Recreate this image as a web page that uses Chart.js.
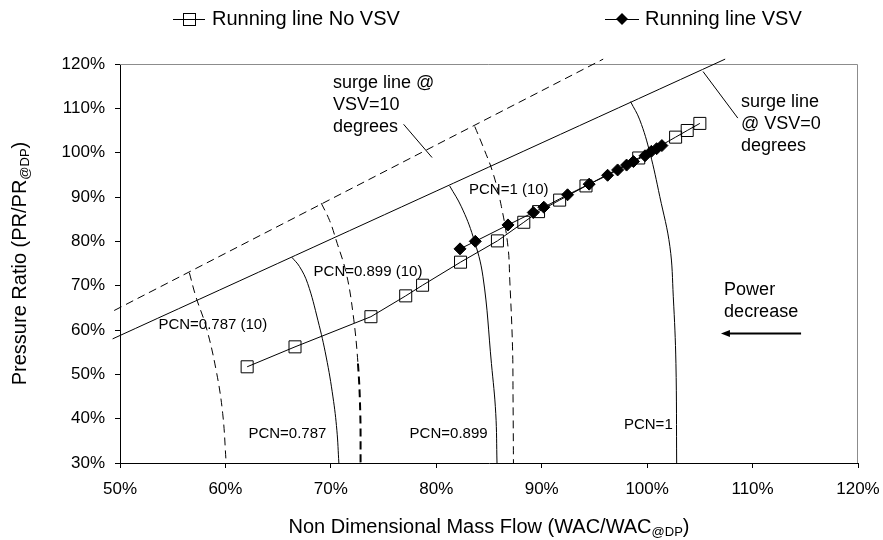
<!DOCTYPE html>
<html>
<head>
<meta charset="utf-8">
<script src="https://cdn.jsdelivr.net/npm/chart.js@4/dist/chart.umd.min.js"></script>
<style>
  html, body { margin: 0; padding: 0; background: #fff; }
  #wrap { width: 883px; height: 540px; }
</style>
</head>
<body>
<div id="wrap"><canvas id="c" width="883" height="540"></canvas></div>
<script>
// Running lines (mass flow % vs pressure ratio %)
const noVsvFlow = [62.06, 66.6, 73.8, 77.1, 78.7, 82.3, 85.8, 88.3, 89.7, 91.7, 94.2, 99.2, 102.7, 103.8, 105.0];
const noVsvPR   = [51.7, 56.2, 63.0, 67.7, 70.1, 75.3, 80.1, 84.3, 86.7, 89.3, 92.5, 98.8, 103.5, 105.0, 106.6];
const vsvFlow = [82.25, 83.7, 86.8, 89.2, 90.2, 92.45, 94.5, 96.25, 97.2, 98.05, 98.7, 99.8, 100.4, 100.9, 101.4];
const vsvPR   = [78.3, 80.0, 83.7, 86.5, 87.7, 90.5, 92.9, 94.9, 96.1, 97.2, 98.0, 99.3, 100.3, 100.9, 101.6];

// Surge lines
const surge0Flow  = [49.3, 107.4];
const surge0PR    = [58.0, 121.1];
const surge10Flow = [49.45, 95.83];
const surge10PR   = [64.4, 121.1];

// Constant speed lines, VSV = 0 (solid)
const pcn0787Flow = [66.3, 67.03, 67.8, 68.77, 69.56, 70.2, 70.57, 70.76];
const pcn0787PR   = [76.4, 74.3, 70.5, 62.2, 53.9, 44.9, 37.4, 30];
const pcn0899Flow = [81.27, 82.38, 83.49, 84.43, 85.23, 85.64, 85.76];
const pcn0899PR   = [92.5, 87.8, 81.05, 72.0, 52.45, 41.2, 30];
const pcn1Flow    = [98.43, 99.3, 100.27, 101.2, 102.16, 102.48, 102.73, 102.8];
const pcn1PR      = [111.5, 107.4, 99.9, 90.1, 78.8, 67.5, 52.45, 30];

// Constant speed lines, VSV = 10 (dashed)
const pcn0787v10Flow = [56.58, 57.2, 58.17, 59.12, 59.74, 60.07];
const pcn0787v10PR   = [72.9, 67.5, 60.7, 50.9, 41.2, 30];
const pcn0899v10Flow = [69.09, 69.88, 70.5, 71.46, 72.1, 72.57, 72.79, 72.82];
const pcn0899v10PR   = [88.6, 84.7, 80.3, 72.8, 63.75, 52.45, 41.2, 30];
const pcn1v10Flow    = [83.65, 84.43, 85.38, 86.18, 86.8, 86.97, 87.23, 87.28, 87.32];
const pcn1v10PR      = [105.9, 101.4, 95.4, 87.8, 78.8, 71.3, 56.2, 44.9, 30];

// Axis ticks
const xTicks = [50, 60, 70, 80, 90, 100, 110, 120];
const yTicks = [30, 40, 50, 60, 70, 80, 90, 100, 110, 120];

// Series names
const seriesNames = ['Running line No VSV', 'Running line VSV'];

// Text notes placed in data coordinates: [text lines, flow, pr, font px]
const noteTexts = [
  [['surge line @', 'VSV=10', 'degrees'], 70.2, 115.8, 18],
  [['surge line', '@ VSV=0', 'degrees'], 108.9, 111.5, 18],
  [['PCN=1 (10)'], 83.1, 91.6, 15],
  [['PCN=0.899 (10)'], 68.36, 73.1, 15],
  [['PCN=0.787 (10)'], 53.64, 61.1, 15],
  [['PCN=0.787'], 62.18, 36.6, 15],
  [['PCN=0.899'], 77.47, 36.6, 15],
  [['PCN=1'], 97.8, 38.7, 15],
  [['Power', 'decrease'], 107.3, 69.0, 18]
];
// Leader lines for the surge-line notes: [flow1, pr1, flow2, pr2]
const leaderLines = [
  [76.9, 106.4, 79.6, 98.9],
  [105.3, 118.3, 108.6, 107.8]
];
// "Power decrease" arrow: from (flow, pr) pointing to (flow, pr)
const arrowFrom = [114.6, 59.2];
const arrowTo   = [107.0, 59.2];

const FONT = "'Liberation Sans', Arial, Helvetica, sans-serif";

function pts(xs, ys) { return xs.map((x, i) => ({ x: x, y: ys[i] })); }

function curve(xs, ys, dashed, segment) {
  const ds = {
    data: pts(xs, ys),
    showLine: true,
    borderColor: '#000',
    borderWidth: 1,
    borderDash: dashed ? [8, 5] : [],
    pointRadius: 0,
    pointHoverRadius: 0,
    tension: 0.4,
    clip: false,
    fill: false
  };
  if (segment) ds.segment = segment;
  return ds;
}

const frameAndNotes = {
  id: 'frameAndNotes',
  beforeDatasetsDraw(chart) {
    const { ctx, chartArea: a } = chart;
    ctx.save();
    ctx.strokeStyle = '#8c8c8c';
    ctx.lineWidth = 1;
    ctx.beginPath();
    ctx.moveTo(a.left, a.top + 0.5);
    ctx.lineTo(a.right - 0.5, a.top + 0.5);
    ctx.lineTo(a.right - 0.5, a.bottom);
    ctx.stroke();
    ctx.restore();
  },
  afterDatasetsDraw(chart) {
    const { ctx, scales } = chart;
    const xs = scales.x, ys = scales.y;
    ctx.save();
    ctx.fillStyle = '#000';
    ctx.strokeStyle = '#000';
    ctx.textAlign = 'left';
    ctx.textBaseline = 'middle';
    for (const [lines, fx, fy, size] of noteTexts) {
      ctx.font = size + 'px ' + FONT;
      const px = xs.getPixelForValue(fx);
      const py = ys.getPixelForValue(fy);
      const lh = size >= 18 ? 22 : 18;
      lines.forEach((t, i) => ctx.fillText(t, px, py + i * lh));
    }
    ctx.lineWidth = 1;
    for (const [x1, y1, x2, y2] of leaderLines) {
      ctx.beginPath();
      ctx.moveTo(xs.getPixelForValue(x1), ys.getPixelForValue(y1));
      ctx.lineTo(xs.getPixelForValue(x2), ys.getPixelForValue(y2));
      ctx.stroke();
    }
    // arrow
    const ax1 = xs.getPixelForValue(arrowFrom[0]), ay1 = ys.getPixelForValue(arrowFrom[1]);
    const ax2 = xs.getPixelForValue(arrowTo[0]), ay2 = ys.getPixelForValue(arrowTo[1]);
    ctx.lineWidth = 2;
    ctx.beginPath();
    ctx.moveTo(ax1, ay1);
    ctx.lineTo(ax2 + 6, ay2);
    ctx.stroke();
    ctx.beginPath();
    ctx.moveTo(ax2, ay2);
    ctx.lineTo(ax2 + 9, ay2 - 3.5);
    ctx.lineTo(ax2 + 9, ay2 + 3.5);
    ctx.closePath();
    ctx.fill();
    ctx.restore();
  },
  afterDraw(chart) {
    const { ctx, chartArea: a } = chart;
    ctx.save();
    ctx.fillStyle = '#000';
    ctx.strokeStyle = '#000';
    // legend
    const ly = 19;
    ctx.lineWidth = 1;
    ctx.beginPath(); ctx.moveTo(173, ly + 0.5); ctx.lineTo(205, ly + 0.5); ctx.stroke();
    ctx.strokeRect(183.5, ly - 5.5, 12, 12);
    ctx.beginPath(); ctx.moveTo(605, ly + 0.5); ctx.lineTo(639, ly + 0.5); ctx.stroke();
    ctx.beginPath();
    ctx.moveTo(622, ly - 6); ctx.lineTo(628, ly); ctx.lineTo(622, ly + 6); ctx.lineTo(616, ly);
    ctx.closePath(); ctx.fill();
    ctx.font = '20px ' + FONT;
    ctx.textAlign = 'left';
    ctx.textBaseline = 'middle';
    ctx.fillText(seriesNames[0], 212, ly);
    ctx.fillText(seriesNames[1], 645, ly);

    // axis titles with subscripts
    const big = '20px ' + FONT, small = '13px ' + FONT;
    const xParts = [
      { t: 'Non Dimensional Mass Flow (WAC/WAC', f: big, dy: 0 },
      { t: '@DP', f: small, dy: 5 },
      { t: ')', f: big, dy: 0 }
    ];
    const yParts = [
      { t: 'Pressure Ratio (PR/PR', f: big, dy: 0 },
      { t: '@DP', f: small, dy: 5 },
      { t: ')', f: big, dy: 0 }
    ];
    const drawRich = (parts, cx, cy) => {
      let w = 0;
      for (const p of parts) { ctx.font = p.f; w += ctx.measureText(p.t).width; }
      let x = cx - w / 2;
      for (const p of parts) {
        ctx.font = p.f;
        ctx.fillText(p.t, x, cy + p.dy);
        x += ctx.measureText(p.t).width;
      }
    };
    drawRich(xParts, (a.left + a.right) / 2, 527);
    ctx.save();
    ctx.translate(20, (a.top + a.bottom) / 2);
    ctx.rotate(-Math.PI / 2);
    drawRich(yParts, 0, 0);
    ctx.restore();
    ctx.restore();
  }
};

const ctx = document.getElementById('c').getContext('2d');
new Chart(ctx, {
  type: 'scatter',
  data: {
    datasets: [
      {
        label: seriesNames[1],
        data: pts(vsvFlow, vsvPR),
        showLine: true,
        borderColor: '#000',
        borderWidth: 1,
        pointStyle: 'rectRot',
        pointRadius: 6,
        pointHoverRadius: 6,
        pointBackgroundColor: '#000',
        pointBorderColor: '#000',
        pointBorderWidth: 1,
        tension: 0
      },
      {
        label: seriesNames[0],
        data: pts(noVsvFlow, noVsvPR),
        showLine: true,
        borderColor: '#000',
        borderWidth: 1,
        pointStyle: 'rect',
        pointRadius: 8.5,
        pointHoverRadius: 8.5,
        pointBackgroundColor: 'rgba(0,0,0,0)',
        pointBorderColor: '#000',
        pointBorderWidth: 1,
        tension: 0
      },
      curve(surge0Flow, surge0PR, false),
      curve(surge10Flow, surge10PR, true),
      curve(pcn0787Flow, pcn0787PR, false),
      curve(pcn0899Flow, pcn0899PR, false),
      curve(pcn1Flow, pcn1PR, false),
      curve(pcn0787v10Flow, pcn0787v10PR, true),
      // lower part of this speed line is drawn heavier
      curve(pcn0899v10Flow, pcn0899v10PR, true, {
        borderWidth: c => (c.p0.parsed.y < 60 ? 2 : 1)
      }),
      curve(pcn1v10Flow, pcn1v10PR, true)
    ]
  },
  options: {
    responsive: false,
    animation: false,
    events: [],
    layout: { padding: { top: 64, right: 25, bottom: 0, left: 0 } },
    plugins: {
      legend: { display: false },
      tooltip: { enabled: false },
      title: { display: false }
    },
    scales: {
      x: {
        type: 'linear',
        min: xTicks[0],
        max: xTicks[xTicks.length - 1],
        afterBuildTicks(scale) { scale.ticks = xTicks.map(v => ({ value: v })); },
        afterFit(scale) { scale.height = 77; scale.paddingLeft = 0; scale.paddingRight = 0; },
        ticks: {
          callback: v => v + '%',
          color: '#000',
          font: { family: FONT, size: 17 },
          padding: 11,
          maxRotation: 0
        },
        grid: { display: true, drawOnChartArea: false, drawTicks: true, tickLength: 5, color: '#000' },
        border: { display: true, color: '#000', width: 1 }
      },
      y: {
        type: 'linear',
        min: yTicks[0],
        max: yTicks[yTicks.length - 1],
        afterBuildTicks(scale) { scale.ticks = yTicks.map(v => ({ value: v })); },
        afterFit(scale) { scale.width = 120; scale.paddingTop = 0; scale.paddingBottom = 0; },
        ticks: {
          callback: v => v + '%',
          color: '#000',
          font: { family: FONT, size: 17 },
          padding: 10
        },
        grid: { display: true, drawOnChartArea: false, drawTicks: true, tickLength: 5, color: '#000' },
        border: { display: true, color: '#000', width: 1 }
      }
    }
  },
  plugins: [frameAndNotes]
});
</script>
</body>
</html>
